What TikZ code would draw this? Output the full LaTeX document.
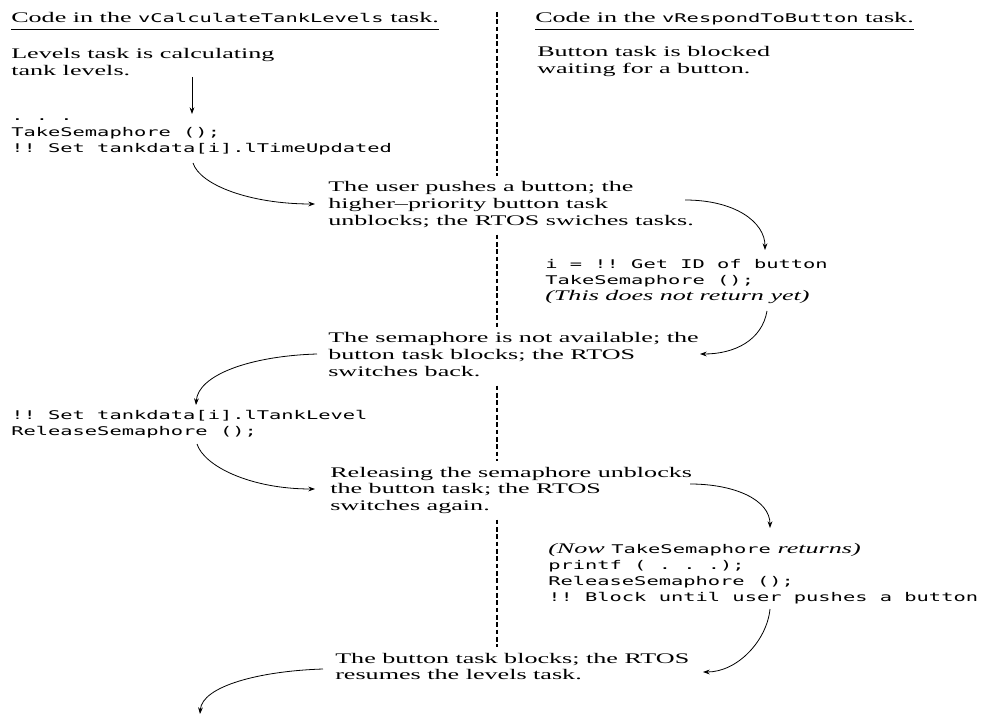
\documentclass[tikz,border=0pt]{standalone}
\usepackage{fontspec}
\setmainfont{Liberation Serif}[FakeStretch=1.78]
\setmonofont{DejaVu Sans Mono}[FakeStretch=1.70]
\usetikzlibrary{arrows.meta}

% serif and monospaced sizes used in the figure
\newcommand{\ser}{\rmfamily\fontsize{11}{12}\selectfont}
\newcommand{\mono}[1]{{\ttfamily\fontsize{9}{12}\selectfont #1}}
% stacked lines; the node baseline is the first line
\newcommand{\lines}[1]{\begin{tabular}[t]{@{}l@{}}#1\end{tabular}}

\begin{document}
\begin{tikzpicture}[x=0.75pt,y=-0.75pt,
  txt/.style={anchor=base west,inner xsep=0pt,inner ysep=3pt,
              font=\fontsize{11}{12.5}\selectfont},
  code/.style={anchor=base west,inner xsep=0pt,inner ysep=3pt,
               font=\ttfamily\fontsize{9}{12}\selectfont},
  head/.style={anchor=base west,inner sep=0pt,font=\fontsize{11}{12.5}\selectfont},
  uline/.style={line width=0.8pt},
  vline/.style={line width=0.8pt,dash pattern=on 3.5pt off 2pt},
  arr/.style={-{Stealth[length=5pt,width=3.6pt]},line width=0.6pt}]

\useasboundingbox (0,0) rectangle (993,720);
\fill[white] (0,0) rectangle (993,720);

% column headings
\node[head] (hL) at (11,23) {Code in the \mono{vCalculateTankLevels} task.};
\node[head] (hR) at (535,23) {Code in the \mono{vRespondToButton} task.};
\draw[uline] ([yshift=-5pt]hL.base west) -- ([yshift=-5pt]hL.base east);
\draw[uline] ([yshift=-5pt]hR.base west) -- ([yshift=-5pt]hR.base east);

% levels task (left column)
\node[txt] (levels) at (11,59) {\lines{Levels task is calculating\\tank levels.}};
\node[code] (codeA) at (11,121) {\lines{. . .\\TakeSemaphore ();\\!! Set tankdata[i].lTimeUpdated}};
\node[code] (codeC) at (11,420) {\lines{!! Set tankdata[i].lTankLevel\\ReleaseSemaphore ();}};

% button task (right column)
\node[txt] (btnwait) at (537,57) {\lines{Button task is blocked\\waiting for a button.}};
\node[code] (codeB) at (545,269) {\lines{i = !! Get ID of button\\TakeSemaphore ();\\{\ser\itshape (This does not return yet)}}};
\node[code] (codeD) at (548,553) {\lines{{\ser\itshape (Now }TakeSemaphore{\ser\itshape{} returns)}\\printf ( . . .);\\ReleaseSemaphore ();\\!! Block until user pushes a button}};

% RTOS events (across the divider)
\node[txt] (push) at (328,192) {\lines{The user pushes a button; the\\higher--priority button task\\unblocks; the RTOS swiches tasks.}};
\node[txt] (notavail) at (328,343) {\lines{The semaphore is not available; the\\button task blocks; the RTOS\\switches back.}};
\node[txt] (release) at (330,477) {\lines{Releasing the semaphore unblocks\\the button task; the RTOS\\switches again.}};
\node[txt] (resume) at (335,663) {\lines{The button task blocks; the RTOS\\resumes the levels task.}};

% divider between the two tasks, broken by the event texts
\coordinate (vtop) at (497,12);
\draw[vline] (vtop) -- (vtop |- push.north);
\draw[vline] (vtop |- push.south) -- (vtop |- notavail.north);
\draw[vline] (vtop |- notavail.south) -- (vtop |- release.north);
\draw[vline] (vtop |- release.south) -- (vtop |- resume.north);

% flow of control
\coordinate (a0s) at (192,77);  \coordinate (a0e) at (192,114);
\coordinate (a1s) at (193,163); \coordinate (a1e) at (315,204);
\coordinate (a2s) at (685,200); \coordinate (a2e) at (765,250);
\coordinate (a3s) at (767,311); \coordinate (a3e) at (700,354);
\coordinate (a4s) at (317,354); \coordinate (a4e) at (196,405);
\coordinate (a5s) at (197,444); \coordinate (a5e) at (315,489);
\coordinate (a6s) at (690,484); \coordinate (a6e) at (770,528);
\coordinate (a7s) at (770,609); \coordinate (a7e) at (703,672);
\coordinate (a8s) at (323,669); \coordinate (a8e) at (200,714);

\draw[arr] (a0s) -- (a0e);
\draw[arr] (a1s) .. controls (200,185) and (250,204) .. (a1e);
\draw[arr] (a2s) .. controls (735,200) and (765,222) .. (a2e);
\draw[arr] (a3s) .. controls (762,340) and (735,354) .. (a3e);
\draw[arr] (a4s) .. controls (250,356) and (198,375) .. (a4e);
\draw[arr] (a5s) .. controls (204,466) and (250,489) .. (a5e);
\draw[arr] (a6s) .. controls (735,484) and (770,500) .. (a6e);
\draw[arr] (a7s) .. controls (767,640) and (738,672) .. (a7e);
\draw[arr] (a8s) .. controls (260,671) and (202,686) .. (a8e);
\end{tikzpicture}
\end{document}
